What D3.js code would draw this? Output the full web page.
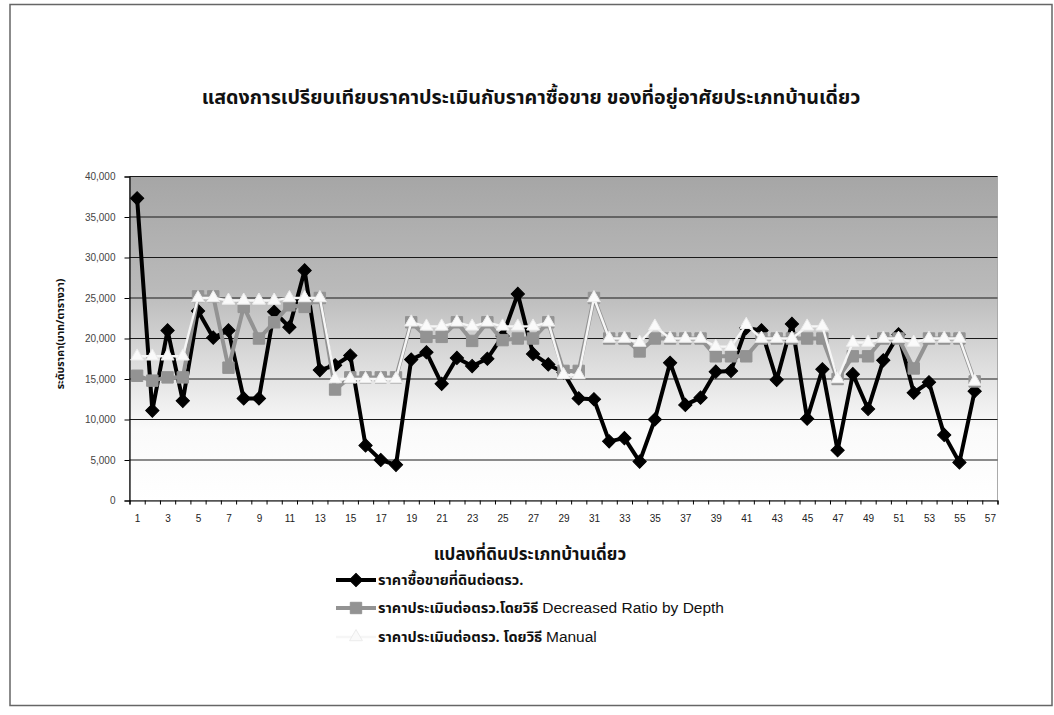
<!DOCTYPE html>
<html><head><meta charset="utf-8">
<script src="https://cdn.jsdelivr.net/npm/d3@7"></script>
<style>
html,body{margin:0;padding:0;background:#fff;}
svg{display:block;}
.thai{font-family:"Noto Sans Thai","Tahoma","Loma","Garuda","Liberation Sans","DejaVu Sans",sans-serif;}
.tick text{font-family:"Liberation Sans",Arial,sans-serif;}
</style></head>
<body>
<svg id="chart" width="1054" height="715"></svg>
<script>
const categories = d3.range(1, 58);          // 1..57
const saleValues = [37300, 11100, 21000, 12300, 23400, 20100, 21000, 12600, 12600, 23300,
  21400, 28400, 16100, 16700, 17900, 6800, 5000, 4400, 17400, 18300,
  14400, 17600, 16600, 17500, 20300, 25500, 18100, 16800, 15800, 12600,
  12500, 7300, 7700, 4800, 10000, 17000, 11800, 12700, 15900, 16000,
  21300, 21000, 14900, 21800, 10100, 16200, 6200, 15600, 11300, 17300,
  20500, 13300, 14600, 8100, 4700, 13500];
const ratioValues = [15400, 14800, 15200, 15200, 25200, 25200, 16400, 23900, 20000, 22000,
  24100, 23900, 25000, 13700, 15200, 15200, 15200, 15200, 22000, 20200,
  20200, 22000, 19700, 22000, 19800, 20000, 20000, 22000, 16000, 16000,
  25000, 20000, 20000, 18400, 20000, 20000, 20000, 20000, 17800, 17800,
  17800, 20000, 20000, 20000, 20000, 20000, 15000, 17800, 17800, 20000,
  20000, 16300, 20000, 20000, 20000, 14700];
const manualValues = [17800, 17800, 17800, 17800, 25000, 25000, 24700, 24700, 24700, 24700,
  25000, 25000, 25000, 15000, 15000, 15000, 15000, 15000, 22000, 21500,
  21500, 22000, 21500, 22000, 21500, 21500, 21500, 22000, 15500, 15500,
  25000, 20000, 20000, 19500, 21500, 20000, 20000, 20000, 19000, 19000,
  21700, 20000, 20000, 20000, 21500, 21500, 15000, 19500, 19500, 20000,
  20000, 19500, 20000, 20000, 20000, 14700];
const yTicks = [0, 5000, 10000, 15000, 20000, 25000, 30000, 35000, 40000];
const xLabelTicks = categories.filter(c => c % 2 === 1);
const seriesNames = ["ราคาซื้อขายที่ดินต่อตรว.", "ราคาประเมินต่อตรว.โดยวิธี ", "ราคาประเมินต่อตรว. โดยวิธี "];
const seriesNamesEn = ["", "Decreased Ratio by Depth", "Manual"];
const titleText = "แสดงการเปรียบเทียบราคาประเมินกับราคาซื้อขาย ของที่อยู่อาศัยประเภทบ้านเดี่ยว";
const xTitle = "แปลงที่ดินประเภทบ้านเดี่ยว";
const yTitle = "ระดับราคา(บาท/ตารางวา)";

const svg = d3.select("#chart");
const L = 129.5, R = 997.5, T = 176.5, B = 500.5;

// outer border
svg.append("rect").attr("x", 10).attr("y", 4.5).attr("width", 1042).attr("height", 701)
  .attr("fill", "#fff").attr("stroke", "#666").attr("stroke-width", 1.5);

const x = d3.scalePoint().domain(categories).range([L, R]).padding(0.5);
const xb = d3.scaleLinear().domain([0.5, 57.5]).range([L, R]);
const y = d3.scaleLinear().domain([0, 40000]).range([B, T]);

// background gradient
const defs = svg.append("defs");
const grad = defs.append("linearGradient").attr("id", "bg").attr("x1", 0).attr("y1", 0).attr("x2", 0).attr("y2", 1);
grad.append("stop").attr("offset", "0%").attr("stop-color", "#a6a6a6");
grad.append("stop").attr("offset", "35%").attr("stop-color", "#bababa");
grad.append("stop").attr("offset", "60%").attr("stop-color", "#e0e0e0");
grad.append("stop").attr("offset", "78%").attr("stop-color", "#fafafa");
grad.append("stop").attr("offset", "100%").attr("stop-color", "#ffffff");
svg.append("rect").attr("x", L).attr("y", T).attr("width", R - L).attr("height", B - T)
  .attr("fill", "url(#bg)").attr("stroke", "#aaa").attr("stroke-width", 1);

// gridlines
svg.append("g").selectAll("line").data(yTicks.filter(d => d > 0)).join("line")
  .attr("x1", L).attr("x2", R).attr("y1", d => y(d)).attr("y2", d => y(d))
  .attr("stroke", "#1a1a1a").attr("stroke-width", 1.2);

// y axis
const yAxis = svg.append("g").attr("transform", `translate(${L},0)`)
  .call(d3.axisLeft(y).tickValues(yTicks).tickFormat(d3.format(",")).tickSize(5).tickPadding(9));
yAxis.select(".domain").attr("stroke", "#000").attr("stroke-width", 1.2);
yAxis.selectAll(".tick line").attr("stroke", "#000");
yAxis.selectAll(".tick text").attr("font-size", 10).attr("fill", "#444");

// x axis: boundary ticks
const xAxisB = svg.append("g").attr("transform", `translate(0,${B})`)
  .call(d3.axisBottom(xb).tickValues(d3.range(0.5, 58, 1)).tickFormat("").tickSize(4));
xAxisB.select(".domain").attr("stroke", "#000").attr("stroke-width", 1.2);
xAxisB.selectAll(".tick line").attr("stroke", "#000");
const xAxisL = svg.append("g").attr("transform", `translate(0,${B})`)
  .call(d3.axisBottom(x).tickValues(xLabelTicks).tickSize(0).tickPadding(14));
xAxisL.select(".domain").remove();
xAxisL.selectAll(".tick text").attr("font-size", 10).attr("fill", "#222");

// series
const series = [
  {vals: saleValues, stroke: "#000", sw: 4, marker: "diamond", fill: "#000", mstroke: "#000", size: 88},
  {vals: ratioValues, stroke: "#939393", sw: 4, marker: "square", fill: "#939393", mstroke: "#939393", size: 130},
  {vals: manualValues, stroke: "#f6f6f6", sw: 2.4, marker: "triangle", fill: "#fafafa", mstroke: "#ececec", size: 72}
];
const symType = {diamond: d3.symbolSquare, square: d3.symbolSquare, triangle: d3.symbolTriangle};
const rot = {diamond: 45, square: 0, triangle: 0};
const line = d3.line().x((d, i) => x(categories[i])).y(d => y(d));
series.forEach(s => {
  const g = svg.append("g");
  g.append("path").datum(s.vals).attr("d", line).attr("fill", "none")
    .attr("stroke", s.stroke).attr("stroke-width", s.sw).attr("stroke-linejoin", "round");
  g.selectAll("path.m").data(s.vals).join("path").attr("class", "m")
    .attr("transform", (d, i) => `translate(${x(categories[i])},${y(d)}) rotate(${rot[s.marker]})`)
    .attr("d", d3.symbol().type(symType[s.marker]).size(s.size))
    .attr("fill", s.fill).attr("stroke", s.mstroke).attr("stroke-width", 1);
});

// title
svg.append("text").attr("class", "thai").attr("x", 531).attr("y", 104).attr("text-anchor", "middle")
  .attr("font-size", 19.7).attr("font-weight", "bold").attr("fill", "#111").text(titleText);
// x title
svg.append("text").attr("class", "thai").attr("x", 530).attr("y", 560).attr("text-anchor", "middle")
  .attr("font-size", 17).attr("font-weight", "bold").attr("fill", "#111").text(xTitle);
// y title
svg.append("text").attr("class", "thai").attr("transform", "translate(64,334) rotate(-90)")
  .attr("text-anchor", "middle").attr("font-size", 10.5).attr("font-weight", "bold").attr("fill", "#111").text(yTitle);

// legend
const legY = [585, 613, 642];
series.forEach((s, i) => {
  const g = svg.append("g").attr("transform", `translate(0,${legY[i]})`);
  g.append("line").attr("x1", 336).attr("x2", 376).attr("y1", -5).attr("y2", -5)
    .attr("stroke", s.stroke).attr("stroke-width", s.sw);
  g.append("path").attr("transform", `translate(356,-5) rotate(${rot[s.marker]})`)
    .attr("d", d3.symbol().type(symType[s.marker]).size(s.size))
    .attr("fill", s.fill).attr("stroke", s.mstroke);
  const t = g.append("text").attr("class", "thai").attr("x", 378).attr("y", 0)
    .attr("font-size", 14.5).attr("fill", "#111");
  t.append("tspan").attr("font-weight", "bold").text(seriesNames[i]);
  t.append("tspan").attr("font-family", "'Liberation Sans',Arial,sans-serif").attr("font-size", 15.5).text(seriesNamesEn[i]);
});
</script>
</body></html>
